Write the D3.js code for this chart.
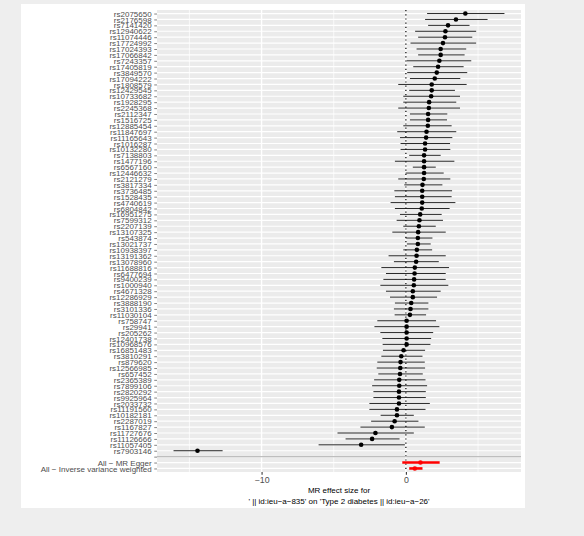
<!DOCTYPE html>
<html>
<head>
<meta charset="utf-8">
<script src="https://cdn.jsdelivr.net/npm/d3@7"></script>
<style>
  body { margin: 0; background: #eeeeee; }
  svg { display: block; font-family: "Liberation Sans", Arial, sans-serif; }
</style>
</head>
<body>
<div id="chart"></div>
<script>
// SNP labels, top to bottom
const snps = [
    "rs2075650", "rs2176598", "rs7141420", "rs12940622", "rs11074446", "rs17724992", "rs17024393",
    "rs17066842", "rs7243357", "rs17405819", "rs3849570", "rs17094222", "rs1808579", "rs12429545",
    "rs10733682", "rs1928295", "rs2245368", "rs2112347", "rs1516725", "rs12885454", "rs11847697",
    "rs11165643", "rs1016287", "rs10132280", "rs7138803", "rs1477196", "rs6567160", "rs12446632",
    "rs2121279", "rs3817334", "rs3736485", "rs1528435", "rs4740619", "rs6804842", "rs16951275",
    "rs7599312", "rs2207139", "rs13107325", "rs543874", "rs13021737", "rs10938397", "rs13191362",
    "rs13078960", "rs11688816", "rs6477694", "rs9400239", "rs1000940", "rs4671328", "rs12286929",
    "rs3888190", "rs3101336", "rs11030104", "rs758747", "rs29941", "rs205262", "rs12401738",
    "rs10968576", "rs16851483", "rs3810291", "rs879620", "rs12566985", "rs657452", "rs2365389",
    "rs7899106", "rs2820292", "rs9925964", "rs2033732", "rs11191560", "rs10182181", "rs2287019",
    "rs1167827", "rs11727676", "rs11126666", "rs11057405", "rs7903146"
];

// effect estimates and 95% CI for each SNP
const snpB = [
    4.12, 3.47, 2.92, 2.74, 2.71, 2.57, 2.41, 2.41, 2.32, 2.23, 2.14, 2.00, 1.79, 1.79, 1.75,
    1.61, 1.59, 1.54, 1.54, 1.52, 1.43, 1.40, 1.33, 1.33, 1.26, 1.26, 1.26, 1.26, 1.24, 1.15,
    1.13, 1.13, 1.13, 1.10, 0.99, 0.94, 0.90, 0.85, 0.83, 0.83, 0.76, 0.74, 0.71, 0.62, 0.60,
    0.57, 0.55, 0.48, 0.48, 0.37, 0.32, 0.28, 0.05, 0.05, 0.05, 0.05, 0.05, -0.16, -0.32, -0.37,
    -0.39, -0.41, -0.46, -0.46, -0.48, -0.48, -0.48, -0.62, -0.62, -0.78, -0.97, -2.11, -2.34, -3.10, -14.44
];
const snpLo = [
    1.47, 1.33, 1.54, 0.64, 0.85, 0.32, 0.74, 0.85, 0.05, 0.51, 0.09, 0.28, -0.53, 0.23, -0.18,
    -0.18, -0.53, 0.28, 0.28, -0.18, -0.60, -0.41, -0.37, -0.37, 0.23, -0.76, 0.48, -0.02, -0.53, -0.11,
    -0.80, -0.76, -1.06, -0.76, -0.41, -0.64, -0.18, -0.94, -0.02, 0.07, -0.18, -1.20, -0.83, -1.70, -1.38,
    -1.56, -1.77, -1.38, -1.10, -0.76, -0.83, -0.78, -1.98, -2.18, -1.77, -1.63, -1.61, -1.59, -1.70, -1.98,
    -2.02, -1.91, -2.20, -2.34, -2.25, -2.25, -2.53, -2.53, -1.75, -2.41, -3.15, -4.74, -4.18, -6.05, -16.10
];
const snpUp = [
    6.83, 5.66, 4.41, 4.87, 4.60, 4.87, 4.18, 4.07, 4.53, 4.00, 4.25, 3.77, 4.21, 3.40, 3.75,
    3.49, 3.75, 2.87, 2.85, 3.17, 3.49, 3.22, 3.06, 3.08, 2.41, 3.36, 2.07, 2.62, 3.08, 2.53,
    3.20, 3.17, 3.43, 3.03, 2.48, 2.57, 2.07, 2.76, 1.84, 1.72, 1.82, 2.76, 2.28, 2.99, 2.76,
    2.76, 2.94, 2.41, 2.16, 1.56, 1.56, 1.40, 2.09, 2.32, 1.89, 1.75, 1.70, 1.33, 1.15, 1.31,
    1.33, 1.17, 1.36, 1.47, 1.38, 1.38, 1.66, 1.36, 0.55, 0.87, 1.31, 0.55, -0.44, -0.07, -12.70
];

// combined estimates
const allLabels = ["All \u2212 MR Egger", "All \u2212 Inverse variance weighted"];
const allB = [1.01, 0.62];
const allLo = [-0.25, 0.23];
const allUp = [2.34, 1.15];

// axis breaks
const majorTicks = [-10, 0];
const minorTicks = [-15, -5, 5];

const titleLines = [
    "MR effect size for",
    "' || id:ieu\u2212a\u2212835' on 'Type 2 diabetes || id:ieu\u2212a\u221226'"
];

// build rows
let rows = snps.map((s, i) => ({ snp: s, b: snpB[i], lo: snpLo[i], up: snpUp[i], tot: 0 }));
allLabels.forEach((s, i) => rows.push({ snp: s, b: allB[i], lo: allLo[i], up: allUp[i], tot: 1 }));
const levels = snps.concat([""], allLabels);

const W = 584, H = 536;
const panel = { left: 157, right: 521, top: 10, bottom: 472 };

const svg = d3.select("#chart").append("svg")
    .attr("width", W)
    .attr("height", H);

// plot background
svg.append("rect")
    .attr("x", 21).attr("y", 4)
    .attr("width", 504).attr("height", 504)
    .attr("fill", "#ffffff");

// x scale with ggplot style 5% expansion
const xMin = d3.min(rows, d => d.lo), xMax = d3.max(rows, d => d.up);
const pad = (xMax - xMin) * 0.05;
const x = d3.scaleLinear()
    .domain([xMin - pad, xMax + pad])
    .range([panel.left, panel.right]);

const y = d3.scalePoint()
    .domain(levels)
    .range([panel.top, panel.bottom])
    .padding(0.6);

// panel
svg.append("rect")
    .attr("x", panel.left).attr("y", panel.top)
    .attr("width", panel.right - panel.left)
    .attr("height", panel.bottom - panel.top)
    .attr("fill", "#ebebeb");

// grid
svg.append("g").selectAll("line")
    .data(minorTicks)
    .join("line")
    .attr("x1", d => x(d)).attr("x2", d => x(d))
    .attr("y1", panel.top).attr("y2", panel.bottom)
    .attr("stroke", "#ffffff").attr("stroke-width", 0.71);

svg.append("g").selectAll("line")
    .data(majorTicks)
    .join("line")
    .attr("x1", d => x(d)).attr("x2", d => x(d))
    .attr("y1", panel.top).attr("y2", panel.bottom)
    .attr("stroke", "#ffffff").attr("stroke-width", 1.42);

svg.append("g").selectAll("line")
    .data(levels)
    .join("line")
    .attr("x1", panel.left).attr("x2", panel.right)
    .attr("y1", d => y(d)).attr("y2", d => y(d))
    .attr("stroke", "#ffffff").attr("stroke-width", 1.2);

// zero line
svg.append("line")
    .attr("x1", x(0)).attr("x2", x(0))
    .attr("y1", panel.top).attr("y2", panel.bottom)
    .attr("stroke", "#000000")
    .attr("stroke-width", 1.2)
    .attr("stroke-dasharray", "1.2 3");

// error bars
svg.append("g").selectAll("line")
    .data(rows)
    .join("line")
    .attr("x1", d => x(d.lo)).attr("x2", d => x(d.up))
    .attr("y1", d => y(d.snp)).attr("y2", d => y(d.snp))
    .attr("stroke", d => d.tot ? "#ff0000" : "#000000")
    .attr("stroke-width", d => d.tot ? 2.6 : 0.85);

// points
svg.append("g").selectAll("circle")
    .data(rows)
    .join("circle")
    .attr("cx", d => x(d.b))
    .attr("cy", d => y(d.snp))
    .attr("r", 2.3)
    .attr("fill", d => d.tot ? "#ff0000" : "#000000");

// separator line at blank row
svg.append("line")
    .attr("x1", panel.left).attr("x2", panel.right)
    .attr("y1", y("")).attr("y2", y(""))
    .attr("stroke", "#bebebe").attr("stroke-width", 1.42);

// axes
const yAxis = svg.append("g")
    .attr("transform", `translate(${panel.left},0)`)
    .call(d3.axisLeft(y).tickSize(2.75).tickPadding(2.6));
yAxis.select(".domain").remove();
yAxis.selectAll(".tick line").attr("stroke", "#333333").attr("stroke-width", 0.6);
yAxis.selectAll(".tick text")
    .attr("fill", "#4d4d4d")
    .style("font-size", "8px")
    .style("font-family", "Liberation Sans, Arial, sans-serif");

const xAxis = svg.append("g")
    .attr("transform", `translate(0,${panel.bottom})`)
    .call(d3.axisBottom(x).tickValues(majorTicks).tickSize(2.75).tickPadding(2.2)
        .tickFormat(d => d < 0 ? "\u2212" + Math.abs(d) : d));
xAxis.select(".domain").remove();
xAxis.selectAll(".tick line").attr("stroke", "#333333").attr("stroke-width", 1.07);
xAxis.selectAll(".tick text")
    .attr("fill", "#4d4d4d")
    .style("font-size", "8.8px")
    .style("font-family", "Liberation Sans, Arial, sans-serif");

// x title
const cx = (panel.left + panel.right) / 2;
svg.append("g").selectAll("text")
    .data(titleLines)
    .join("text")
    .attr("x", cx)
    .attr("y", (d, i) => 493 + i * 11)
    .attr("text-anchor", "middle")
    .attr("fill", "#000000")
    .style("font-size", "8px")
    .text(d => d);
</script>
</body>
</html>
